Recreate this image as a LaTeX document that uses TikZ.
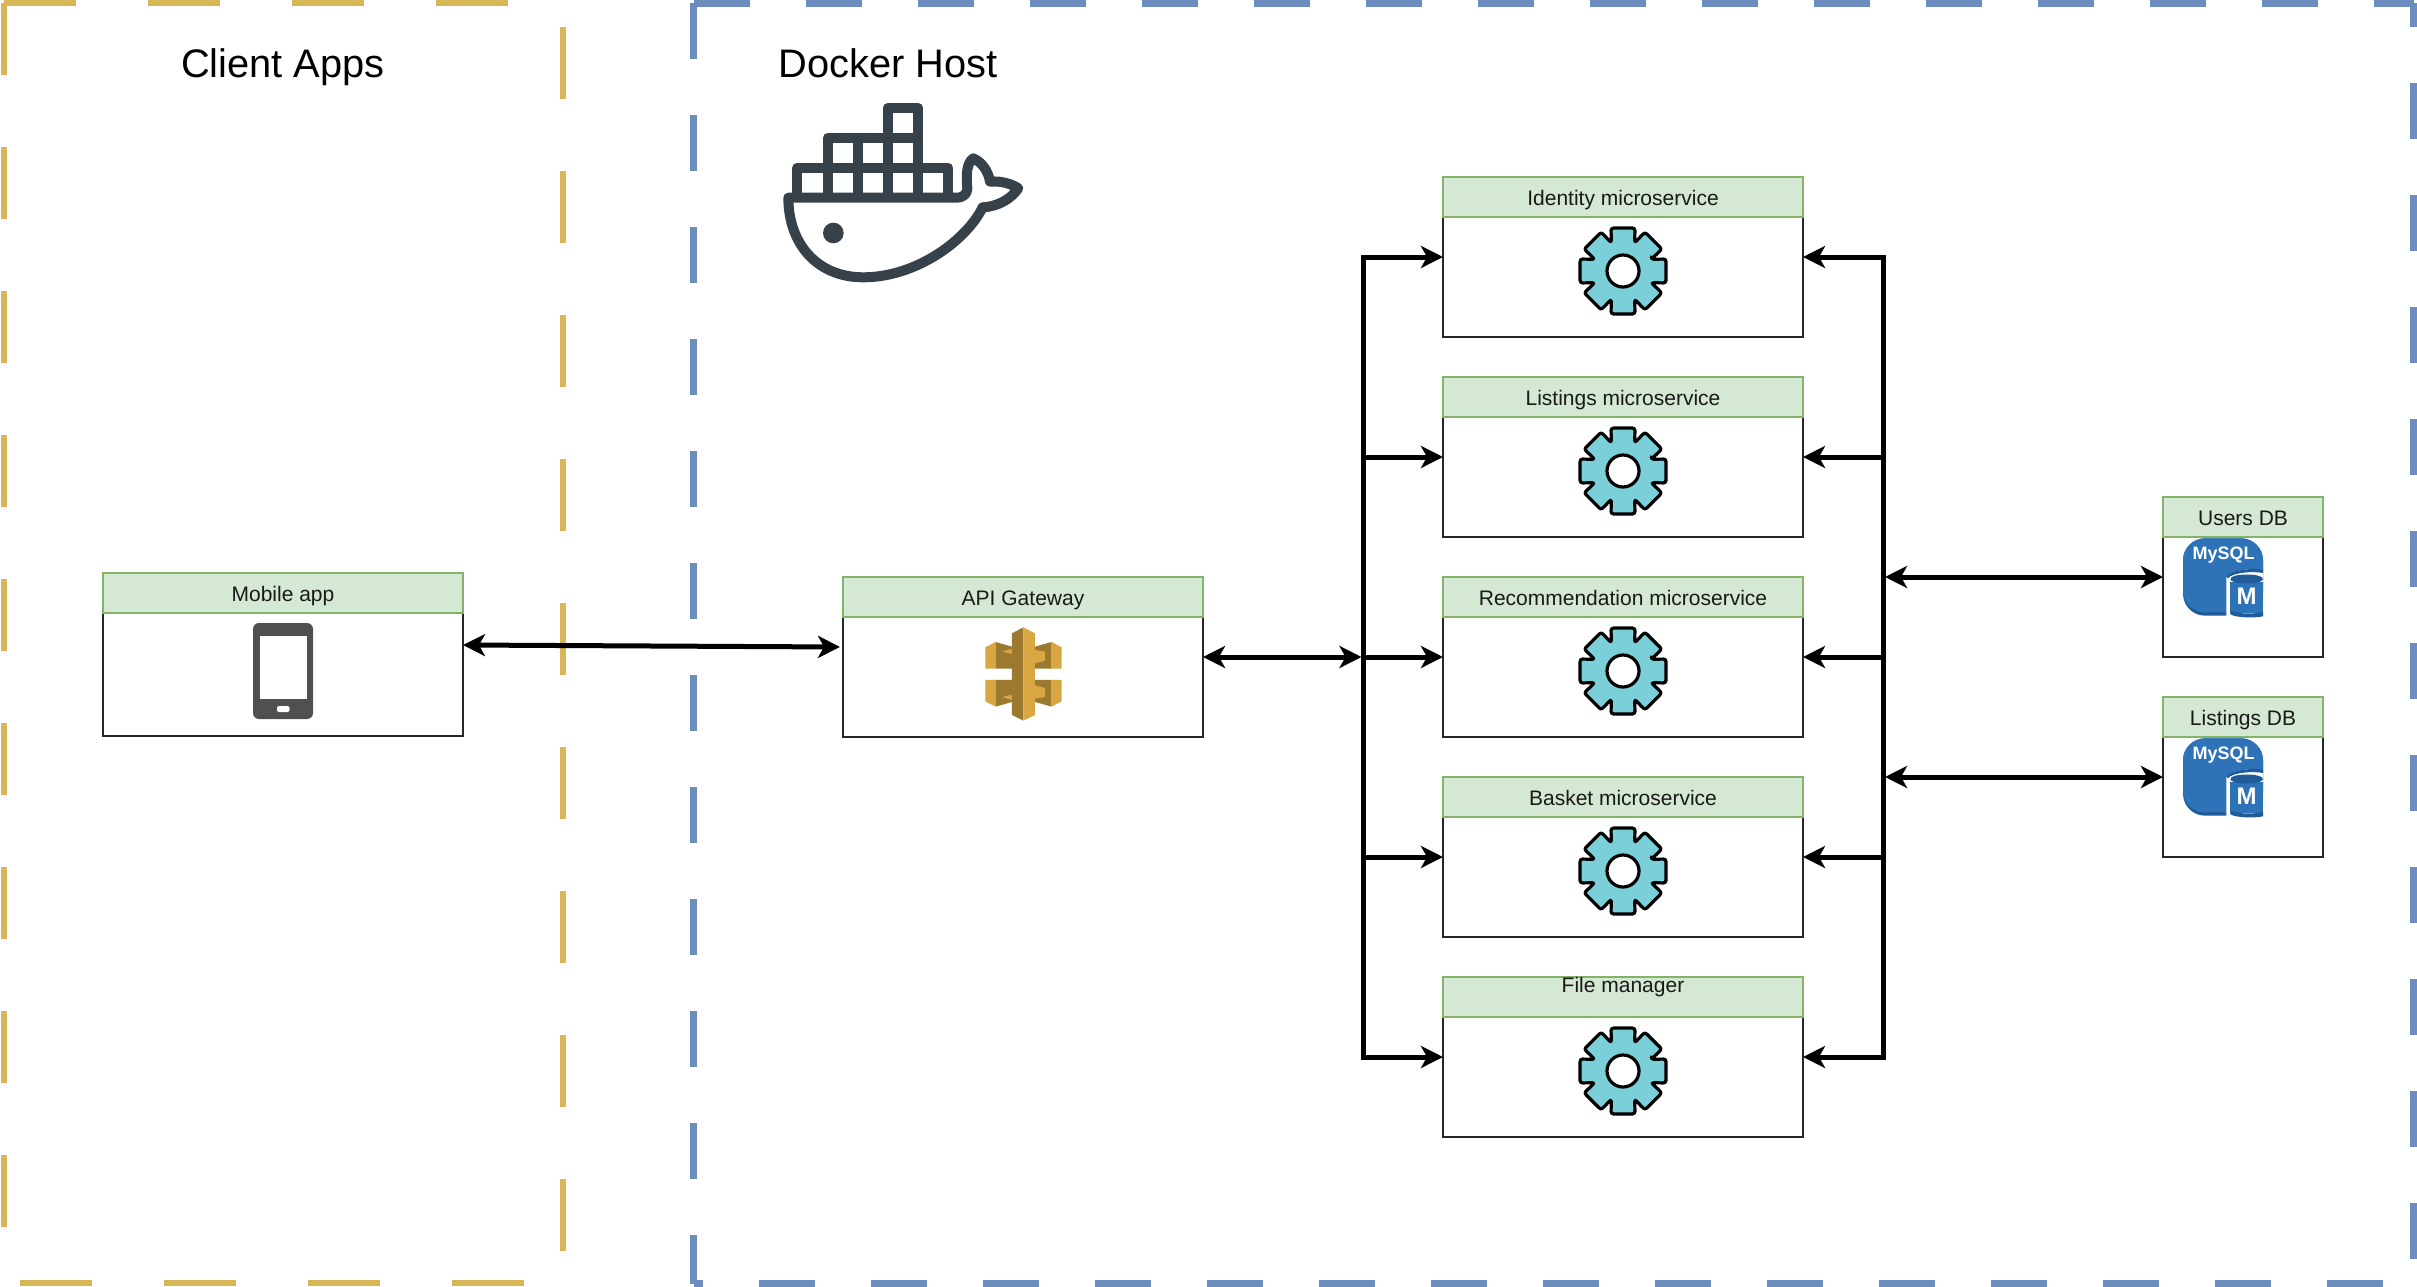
\documentclass[tikz,border=0pt]{standalone}
\usepackage{fontspec}
\setmainfont{Liberation Sans}
\usetikzlibrary{arrows.meta}
\definecolor{ybord}{HTML}{D6B656}
\definecolor{bbord}{HTML}{6C8EBF}
\definecolor{hfill}{HTML}{D5E8D4}
\definecolor{hbord}{HTML}{82B366}
\definecolor{gearc}{HTML}{7ACFD9}
\definecolor{dockerc}{HTML}{364149}
\definecolor{apid}{HTML}{9B7A30}
\definecolor{apil}{HTML}{D9A741}
\definecolor{phonec}{HTML}{505050}
\definecolor{sqlb}{HTML}{2E73B8}
\definecolor{sqld}{HTML}{205B99}
\newcommand{\apihalfshape}{%
  \fill[apil] (466,232) -- (497,216) -- (497,296) -- (466,296) -- cycle;
  \fill[apid] (497,216) -- (546,230) -- (546,296) -- (497,296) -- cycle;
  \fill[apil] (516,245) -- (546,236) -- (546,272) -- (516,272) -- cycle;
  \fill[apid] (516,245) -- (546,252) -- (546,280) -- (516,272) -- cycle;
  \fill[apid] (615,230) -- (665,216) -- (665,296) -- (615,296) -- cycle;
  \fill[apil] (665,216) -- (695,232) -- (695,296) -- (665,296) -- cycle;
  \fill[apil] (615,240) -- (645,245) -- (645,272) -- (615,280) -- cycle;
}
\tikzset{
  x=1pt,y=-1pt,
  >={Stealth[length=22pt,width=22pt,inset=6pt]},
  yframe/.style={draw=ybord,line width=6pt,dash pattern=on 72pt off 72pt},
  bframe/.style={draw=bbord,line width=7pt,dash pattern=on 56pt off 56pt},
  wire/.style={draw=black,line width=5pt,line join=miter},
  bodybox/.style={draw=black!85,fill=white,line width=1.3pt,inner sep=0pt,outer sep=0pt},
  widebox/.style={bodybox,minimum width=360pt,minimum height=160pt},
  dbbox/.style={bodybox,minimum width=160pt,minimum height=160pt},
  headbox/.style={draw=hbord,fill=hfill,line width=1.3pt,inner sep=0pt,outer sep=0pt,
    minimum height=40pt,anchor=north,text=black!90,
    font=\fontsize{21}{24}\selectfont,text height=18pt,text depth=2pt},
  wideh/.style={headbox,minimum width=360pt},
  dbh/.style={headbox,minimum width=160pt},
  title/.style={font=\fontsize{39.8}{46}\selectfont,anchor=base,inner sep=0pt,text=black},
  gear/.pic={
    \draw[fill=gearc,draw=black,line width=3.2pt,rounded corners=2.5pt,line join=round]
      (-22.5:30.5)
      \foreach \a in {0,45,...,315} { -- (\a-15.6:44.6) -- (\a+15.6:44.6) -- (\a+22.5:30.5) }
      -- cycle;
    \draw[fill=white,draw=black,line width=3.2pt] (0,0) circle (16);
  },
  mysql/.pic={
    \begin{scope}[x=0.3333pt,y=-0.3333pt]
      \fill[sqld,rounded corners=22] (-120,-116) rectangle (120,116);
      \fill[sqlb,rounded corners=22] (-120,-116) rectangle (120,106);
      \fill[white] (10,122) -- (10,0) .. controls (20,-22) and (100,-28) .. (120,-20) -- (120,122) -- cycle;
      \fill[sqld] (10,-2) .. controls (20,-22) and (100,-28) .. (120,-22) -- (120,-12) .. controls (90,-18) and (30,-14) .. (14,4) -- cycle;
      \fill[sqlb] (22,14) rectangle (120,108);
      \fill[sqld] (22,6) .. controls (22,-12) and (120,-12) .. (120,6) .. controls (120,24) and (22,24) .. (22,6) -- cycle;
      \fill[sqld] (22,100) .. controls (40,112) and (100,112) .. (120,104) -- (120,118) .. controls (90,124) and (40,122) .. (22,112) -- cycle;
      \node[inner sep=0pt,text=white,font=\fontsize{18}{20}\bfseries\selectfont] (sqlname) at (2,-66) {MySQL};
      \node[inner sep=0pt,text=white,font=\fontsize{24}{26}\bfseries\selectfont] (sqlm) at (71,58) {M};
    \end{scope}
  }
}
\begin{document}
\begin{tikzpicture}
\useasboundingbox (0,0) rectangle (2417,1287);
\fill[white] (0,0) rectangle (2417,1287);

% frames
\coordinate (ya) at (3.5,3.3);
\coordinate (yb) at (563,3.3);
\coordinate (yc) at (563,1283);
\coordinate (yd) at (3.5,1283);
\draw[yframe] (ya) -- (yb);
\draw[yframe,dash phase=120pt] (yb) -- (yc);
\draw[yframe,dash phase=128pt] (yd) -- (yc);
\draw[yframe] (ya) -- (yd);
\coordinate (ba) at (693.5,3.3);
\coordinate (bb) at (2413.5,3.3);
\coordinate (bc) at (2413.5,1283.5);
\coordinate (bd) at (693.5,1283.5);
\draw[bframe] (ba) -- (bb);
\draw[bframe,dash phase=32pt] (bb) -- (bc);
\draw[bframe,dash phase=47pt] (bd) -- (bc);
\draw[bframe] (ba) -- (bd);

\node[title] (clienttitle) at (283,78) {Client Apps};
\node[title] (dockertitle) at (888,78) {Docker Host};

% docker whale
\begin{scope}[shift={(740,60)},x=0.3333pt,y=-0.3333pt]
  \draw[dockerc,line width=10pt,line join=round]
    (443,233) -- (443,143) -- (535,143) -- (535,413)
    (263,413) -- (263,233) -- (535,233)
    (353,233) -- (353,413)
    (443,233) -- (443,413)
    (172,413) -- (172,323) -- (625,323) -- (625,413);
  \draw[dockerc,line width=10pt,line join=round,line cap=round]
    (145,413) -- (650,413)
    .. controls (672,413) and (682,400) .. (682,385)
    .. controls (678,345) and (680,308) .. (700,295)
    .. controls (728,308) and (745,335) .. (750,365)
    .. controls (785,362) and (815,372) .. (835,385)
    .. controls (815,415) and (775,440) .. (728,442)
    .. controls (680,540) and (530,652) .. (370,652)
    .. controls (230,652) and (145,550) .. (145,413);
  \fill[dockerc] (280,519) circle (31);
\end{scope}

% boxes
\node[bodybox,minimum width=360pt,minimum height=163pt] (mobile) at (283,654.5) {};
\node[wideh] (mobileh) at (mobile.north) {Mobile app};
\node[widebox] (gateway) at (1023,657) {};
\node[wideh] (gatewayh) at (gateway.north) {API Gateway};
\node[widebox] (identity) at (1623,257) {};
\node[wideh] (identityh) at (identity.north) {Identity microservice};
\node[widebox] (listings) at (1623,457) {};
\node[wideh] (listingsh) at (listings.north) {Listings microservice};
\node[widebox] (recomm) at (1623,657) {};
\node[wideh] (recommh) at (recomm.north) {Recommendation microservice};
\node[widebox] (basket) at (1623,857) {};
\node[wideh] (basketh) at (basket.north) {Basket microservice};
\node[widebox] (filem) at (1623,1057) {};
\node[wideh,text height=5pt,text depth=15pt] (filemh) at (filem.north) {File manager};
\node[dbbox] (usersdb) at (2243,577) {};
\node[dbh] (usersdbh) at (usersdb.north) {Users DB};
\node[dbbox] (listdb) at (2243,777) {};
\node[dbh] (listdbh) at (listdb.north) {Listings DB};

% icons
\pic at (1623,271) {gear};
\pic at (1623,471) {gear};
\pic at (1623,671) {gear};
\pic at (1623,871) {gear};
\pic at (1623,1071) {gear};

\begin{scope}[shift={(830,570)},x=0.3333pt,y=-0.3333pt]
  \apihalfshape
  \begin{scope}[shift={(0,626)},yscale=-1]
    \apihalfshape
  \end{scope}
  \fill[apid] (546,190) -- (580,172) -- (580,452) -- (546,435) -- cycle;
  \fill[apil] (580,172) -- (615,190) -- (615,435) -- (580,452) -- cycle;
\end{scope}

\fill[phonec,rounded corners=6pt] (253,623) rectangle (313,719);
\fill[white] (260,635.5) rectangle (307,699);
\fill[white,rounded corners=2pt] (277,706) rectangle (289.5,712);

\pic at (2223,577) {mysql};
\pic at (2223,777) {mysql};

% connectors
\coordinate (lb1) at (1363,257);
\coordinate (lb2) at (1363,457);
\coordinate (lb3) at (1363,657);
\coordinate (lb4) at (1363,857);
\coordinate (lb5) at (1363,1057);
\coordinate (rb1) at (1883,257);
\coordinate (rb2) at (1883,457);
\coordinate (rb3) at (1883,657);
\coordinate (rb4) at (1883,857);
\coordinate (rb5) at (1883,1057);
\coordinate (rbu) at (1883,577);
\coordinate (rbl) at (1883,777);
\coordinate (mobo) at (463,645);
\coordinate (gwin) at (840,647);

\draw[wire,->] (lb1) -- (identity.west);
\draw[wire,->] (lb2) -- (listings.west);
\draw[wire,->] (lb3) -- (recomm.west);
\draw[wire,->] (lb4) -- (basket.west);
\draw[wire,->] (lb5) -- (filem.west);
\draw[wire,->] (rb1) -- (identity.east);
\draw[wire,->] (rb2) -- (listings.east);
\draw[wire,->] (rb3) -- (recomm.east);
\draw[wire,->] (rb4) -- (basket.east);
\draw[wire,->] (rb5) -- (filem.east);
\draw[wire,line cap=rect] (lb1) -- (lb5);
\draw[wire,line cap=rect] (rb1) -- (rb5);
\draw[wire,<->,shorten >=1.5pt] (gateway.east) -- (lb3);
\draw[wire,<->,shorten <=2pt] (rbu) -- (usersdb.west);
\draw[wire,<->,shorten <=2pt] (rbl) -- (listdb.west);
\draw[wire,<->] (mobo) -- (gwin);
\end{tikzpicture}
\end{document}
